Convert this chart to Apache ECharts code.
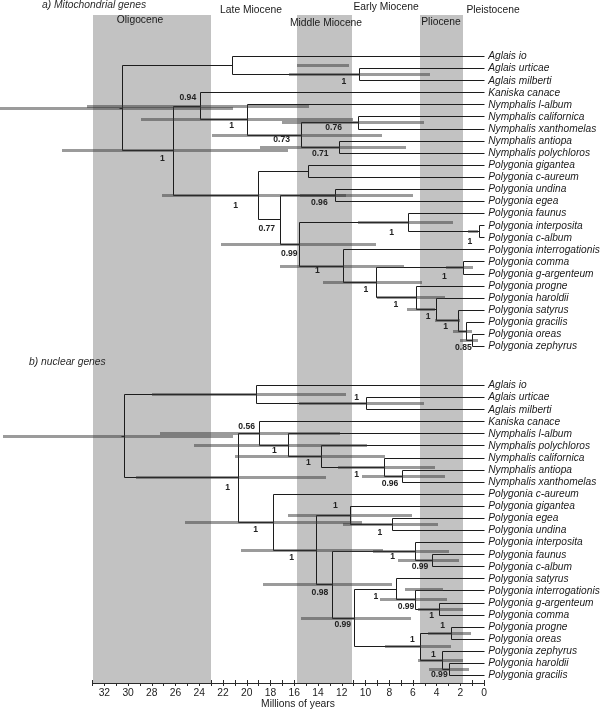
<!DOCTYPE html>
<html><head><meta charset="utf-8">
<script src="https://cdn.jsdelivr.net/npm/echarts@6/dist/echarts.min.js"></script>
<style>html,body{margin:0;padding:0;background:#fff}#c{width:600px;height:713px}</style>
</head><body><div id="c"></div>
<script>
// ================= DATA =================
const epochNames = ['Oligocene', 'Late Miocene', 'Middle Miocene', 'Early Miocene', 'Pliocene', 'Pleistocene'];
const shadedBands = [[33, 23.03], [15.8, 11.1], [5.45, 1.8]]; // Ma (old, young)
const tickLabels = [32, 30, 28, 26, 24, 22, 20, 18, 16, 14, 12, 10, 8, 6, 4, 2, 0];
const axisTitle = 'Millions of years';
const panelTitles = ['a) Mitochondrial genes', 'b) nuclear genes'];

// ---- a) mitochondrial tree ----
const leavesA = ['Aglais io', 'Aglais urticae', 'Aglais milberti', 'Kaniska canace', 'Nymphalis l-album',
  'Nymphalis californica', 'Nymphalis xanthomelas', 'Nymphalis antiopa', 'Nymphalis polychloros',
  'Polygonia gigantea', 'Polygonia c-aureum', 'Polygonia undina', 'Polygonia egea', 'Polygonia faunus',
  'Polygonia interposita', 'Polygonia c-album', 'Polygonia interrogationis', 'Polygonia comma',
  'Polygonia g-argenteum', 'Polygonia progne', 'Polygonia haroldii', 'Polygonia satyrus',
  'Polygonia gracilis', 'Polygonia oreas', 'Polygonia zephyrus'];
// [node id, child 1, child 2, age in Ma]; numbers are leaf indexes
const nodesA = [
  ['root', 'agl', 'n173', 30.51], ['agl', 0, 'um', 21.22], ['um', 1, 2, 10.55],
  ['n173', 'n094', 'p0', 26.19], ['n094', 3, 'nym', 23.96], ['nym', 4, 'n073', 20.01],
  ['n073', 'cx', 'ap', 15.46], ['cx', 5, 6, 10.66], ['ap', 7, 8, 12.21],
  ['p0', 'gc', 'n280', 19.03], ['gc', 9, 10, 14.82], ['n280', 'ue', 'q', 17.2],
  ['ue', 11, 12, 12.57], ['q', 'fau', 'r', 15.58], ['fau', 13, 'ic', 6.39], ['ic', 14, 15, 0.44],
  ['r', 16, 's', 11.87], ['s', 'cg', 't', 9.12], ['cg', 17, 18, 1.76], ['t', 19, 'u', 5.77],
  ['u', 20, 'v', 4.09], ['v', 21, 'w', 2.23], ['w', 22, 'x', 1.56], ['x', 23, 24, 1.05]
];
const supportA = [['um', '1'], ['n094', '0.94'], ['nym', '1'], ['n073', '0.73'], ['cx', '0.76'], ['ap', '0.71'],
  ['n173', '1'], ['p0', '1'], ['ue', '0.96'], ['n280', '0.77'], ['q', '0.99'], ['fau', '1'], ['ic', '1'],
  ['r', '1'], ['s', '1'], ['cg', '1'], ['t', '1'], ['u', '1'], ['v', '1'], ['x', '0.85']];
// 95% HPD bars [node id, old, young]
const hpdA = [['root', 40.79, 21.16], ['n094', 33.46, 14.76], ['agl', 15.8, 11.39], ['um', 16.44, 4.57],
  ['nym', 28.91, 11.05], ['cx', 17.01, 5.07], ['n073', 22.91, 8.64], ['ap', 18.89, 6.59],
  ['n173', 35.54, 16.55], ['p0', 27.12, 11.64], ['ue', 15.52, 5.97], ['fau', 10.61, 2.6],
  ['ic', 1.34, 0.5], ['q', 22.2, 9.14], ['r', 17.2, 6.73], ['s', 13.56, 5.21], ['cg', 3.24, 0.92],
  ['t', 9.06, 3.3], ['u', 6.53, 4.14], ['v', 4.14, 2.04], ['w', 2.6, 1.05], ['x', 2.04, 0.5]];

// ---- b) nuclear tree ----
const leavesB = ['Aglais io', 'Aglais urticae', 'Aglais milberti', 'Kaniska canace', 'Nymphalis l-album',
  'Nymphalis polychloros', 'Nymphalis californica', 'Nymphalis antiopa', 'Nymphalis xanthomelas',
  'Polygonia c-aureum', 'Polygonia gigantea', 'Polygonia egea', 'Polygonia undina', 'Polygonia interposita',
  'Polygonia faunus', 'Polygonia c-album', 'Polygonia satyrus', 'Polygonia interrogationis',
  'Polygonia g-argenteum', 'Polygonia comma', 'Polygonia progne', 'Polygonia oreas', 'Polygonia zephyrus',
  'Polygonia haroldii', 'Polygonia gracilis'];
const nodesB = [
  ['root', 'agl', 'n237', 30.32], ['agl', 0, 'um', 19.25], ['um', 1, 2, 9.98],
  ['n237', 'n056', 'pb0', 20.77], ['n056', 3, 'n287', 18.95], ['n287', 4, 'n320', 16.55],
  ['n320', 5, 'n384', 13.77], ['n384', 6, 'ax', 8.42], ['ax', 7, 8, 6.95],
  ['pb0', 9, 'n316', 17.82], ['n316', 'gig', 'n332', 14.17], ['gig', 10, 'eu', 11.31], ['eu', 11, 12, 7.73],
  ['n332', 'n415', 'n354', 12.8], ['n415', 13, 'fc', 5.83], ['fc', 14, 15, 4.42],
  ['n354', 'n396', 'n420', 10.94], ['n396', 16, 'n415b', 7.43], ['n415b', 17, 'gc', 5.83],
  ['gc', 18, 19, 3.81], ['n420', 'po', 'zc', 5.41], ['po', 20, 21, 2.8], ['zc', 22, 'hg', 3.58],
  ['hg', 23, 24, 2.94]
];
const supportB = [['um', '1'], ['n056', '0.56'], ['n287', '1'], ['n320', '1'], ['n384', '1'], ['ax', '0.96'],
  ['n237', '1'], ['gig', '1'], ['eu', '1'], ['pb0', '1'], ['n316', '1'], ['n415', '1'], ['fc', '0.99'],
  ['n332', '0.98'], ['n396', '1'], ['n415b', '0.99'], ['gc', '1'], ['n354', '0.99'], ['po', '1'],
  ['n420', '1'], ['zc', '1'], ['hg', '0.99']];
const hpdB = [['root', 40.57, 21.14], ['n056', 27.31, 12.15], ['agl', 28.01, 11.67], ['um', 15.6, 5.05],
  ['n287', 24.45, 9.9], ['n320', 20.99, 8.32], ['n384', 12.29, 4.14], ['ax', 10.32, 3.3],
  ['n237', 29.33, 13.29], ['pb0', 25.21, 10.32], ['gig', 16.5, 6.11], ['eu', 11.92, 3.92],
  ['n316', 20.49, 8.5], ['n415', 9.34, 2.97], ['fc', 7.24, 2.1], ['n332', 18.61, 7.77],
  ['n354', 15.43, 6.18], ['n396', 6.7, 3.5], ['n415b', 8.78, 3.16], ['gc', 5.55, 1.76],
  ['n420', 8.36, 2.8], ['po', 4.71, 1.11], ['zc', 5.55, 1.76], ['hg', 4.63, 1.26]];

// ================= LAYOUT / STYLE (pixels) =================
const FONT = '"Liberation Sans", Arial, Helvetica, sans-serif';
const epochLabelPos = [[140, 20], [251, 10], [326, 23], [386, 7], [441, 22], [493, 10]];
const titlePos = [[42, 5], [29, 362]];
const supportOffA = {um: [-15, 7], n094: [-12, -8.5], nym: [-15, 6.6], n073: [-19, 5], cx: [-24, 5], ap: [-19, 7.4],
  n173: [-11, 8], p0: [-22.6, 10], ue: [-15.7, 7.4], n280: [-13.3, 9], q: [-10, 10], fau: [-16.6, 10],
  ic: [-9, 10], r: [-26, 5], s: [-10, 7], cg: [-19, 9], t: [-19.7, 7], u: [-7.4, 7.7], v: [-12, 6], x: [-8.4, 7.4]};
const supportOffB = {um: [-9, -6], n056: [-12.6, -6.3], n287: [-13.4, 6.4], n320: [-12.4, 6.5], n384: [-27.6, 8],
  ax: [-11.7, 7.7], n237: [-10, 10], gig: [-14.5, -9], eu: [-12.5, 9], pb0: [-17, 8.3], n316: [-24.3, 8],
  n415: [-22.3, 5], fc: [-11.7, 6.5], n332: [-12.3, 8.4], n396: [-20, 8], n415b: [-9, 7.3], gc: [-7.3, 7.5],
  n354: [-11.6, 6.8], po: [-8.3, -6.6], n420: [-7.7, -6.2], zc: [-8.4, -4.8], hg: [-10, 6]};

// ================= BUILD =================
function layoutTree(leaves, nodes) {
  const map = {};
  nodes.forEach(n => map[n[0]] = n);
  const pos = {};
  function get(c) {
    if (typeof c === 'number') return {age: 0, row: c};
    if (pos[c]) return pos[c];
    const n = map[c];
    const a = get(n[1]), b = get(n[2]);
    pos[c] = {age: n[3], row: (a.row + b.row) / 2, c1: a, c2: b};
    return pos[c];
  }
  nodes.forEach(n => get(n[0]));
  return pos;
}
const snap = v => Math.round(v) + 0.5;

function treeSeries(idx, leaves, nodes, support, hpd, offs) {
  const pos = layoutTree(leaves, nodes);
  const brackets = nodes.map(n => {
    const p = pos[n[0]];
    return [p.age, p.c1.row, p.c2.row, p.c1.age, p.c2.age];
  });
  const bars = hpd.map(h => [h[1], h[2], pos[h[0]].row]);
  const leafData = leaves.map((l, i) => [0, i]);
  const supData = support.map(s => [pos[s[0]].age, pos[s[0]].row]);
  return [
    {
      type: 'custom', xAxisIndex: idx, yAxisIndex: idx, clip: false, z: 3, silent: true,
      data: brackets,
      renderItem: (params, api) => {
        const na = api.value(0), r1 = api.value(1), r2 = api.value(2), c1 = api.value(3), c2 = api.value(4);
        const pts = [api.coord([c1, r1]), api.coord([na, r1]), api.coord([na, r2]), api.coord([c2, r2])]
          .map(p => [snap(p[0]), snap(p[1])]);
        const children = [{type: 'polyline', shape: {points: pts}, style: {stroke: '#1c1c1c', lineWidth: 1, fill: null}}];
        if (params.dataIndex === 0) {
          const m = api.coord([na, (r1 + r2) / 2]);
          children.push({type: 'line', shape: {x1: snap(m[0]) - 3, y1: snap(m[1]), x2: snap(m[0]), y2: snap(m[1])},
            style: {stroke: '#1c1c1c', lineWidth: 1}});
        }
        return {type: 'group', children};
      }
    },
    {
      type: 'custom', xAxisIndex: idx, yAxisIndex: idx, clip: false, z: 4, silent: true,
      data: bars,
      renderItem: (params, api) => {
        const p1 = api.coord([api.value(0), api.value(2)]);
        const p2 = api.coord([api.value(1), api.value(2)]);
        const y = snap(p1[1]);
        return {type: 'line', shape: {x1: Math.round(p1[0]), y1: y, x2: Math.round(p2[0]), y2: y},
          style: {stroke: 'rgba(55,55,55,0.5)', lineWidth: 3}};
      }
    },
    {
      type: 'custom', xAxisIndex: idx, yAxisIndex: idx, clip: false, z: 5, silent: true,
      data: leafData,
      renderItem: (params, api) => {
        const p = api.coord([api.value(0), api.value(1)]);
        return {type: 'text', x: p[0] + 4, y: p[1] + 0.5,
          style: {text: leaves[params.dataIndex], fontSize: 10.2, fontStyle: 'italic', fontFamily: FONT,
            fill: '#1a1a1a', align: 'left', verticalAlign: 'middle'}};
      }
    },
    {
      type: 'custom', xAxisIndex: idx, yAxisIndex: idx, clip: false, z: 5, silent: true,
      data: supData,
      renderItem: (params, api) => {
        const p = api.coord([api.value(0), api.value(1)]);
        const s = support[params.dataIndex];
        const o = offs[s[0]] || [-10, 7];
        return {type: 'text', x: p[0] + o[0], y: p[1] + o[1],
          style: {text: s[1], fontSize: 8.6, fontWeight: 'bold', fontFamily: FONT,
            fill: '#222', align: 'center', verticalAlign: 'middle'}};
      }
    }
  ];
}

const gridLeft = 92.5, gridRight = 115.8;
const hiddenX = gi => ({gridIndex: gi, type: 'value', min: 0, max: 33, inverse: true, show: false});
const option = {
  animation: false,
  backgroundColor: '#fff',
  grid: [
    {left: gridLeft, right: gridRight, top: 15, height: 668},
    {left: gridLeft, right: gridRight, top: 56, height: 290},
    {left: gridLeft, right: gridRight, top: 385, height: 290}
  ],
  xAxis: [
    {gridIndex: 0, type: 'value', min: 0, max: 33, interval: 1, inverse: true, position: 'bottom',
      axisLine: {show: true, lineStyle: {color: '#2a2a2a', width: 1}},
      axisTick: {show: true, length: 3, lineStyle: {color: '#2a2a2a'}},
      splitLine: {show: false},
      axisLabel: {margin: 5, fontSize: 10.3, fontFamily: FONT, color: '#222',
        formatter: v => tickLabels.indexOf(v) >= 0 ? String(v) : ''}},
    hiddenX(1), hiddenX(2),
    {gridIndex: 0, type: 'value', min: 0, max: 33, interval: 1, inverse: true, position: 'bottom',
      axisLine: {show: false}, axisLabel: {show: false}, splitLine: {show: false},
      axisTick: {show: true, inside: true, length: 3, lineStyle: {color: '#2a2a2a'}}}
  ],
  yAxis: [
    {gridIndex: 0, type: 'value', min: 0, max: 1, show: false},
    {gridIndex: 1, type: 'value', min: 0, max: 24, inverse: true, show: false},
    {gridIndex: 2, type: 'value', min: 0, max: 24, inverse: true, show: false}
  ],
  graphic: [
    ...epochNames.map((n, i) => ({type: 'text', x: epochLabelPos[i][0], y: epochLabelPos[i][1], z: 10,
      style: {text: n, fontSize: 10.3, fontFamily: FONT, fill: '#1a1a1a', align: 'center', verticalAlign: 'middle'}})),
    ...panelTitles.map((t, i) => ({type: 'text', x: titlePos[i][0], y: titlePos[i][1], z: 10,
      style: {text: t, fontSize: 10.3, fontStyle: 'italic', fontFamily: FONT, fill: '#2a2a2a', align: 'left', verticalAlign: 'middle'}})),
    {type: 'text', x: 298, y: 704, z: 10,
      style: {text: axisTitle, fontSize: 10.3, fontFamily: FONT, fill: '#1a1a1a', align: 'center', verticalAlign: 'middle'}}
  ],
  series: [
    {
      type: 'custom', xAxisIndex: 0, yAxisIndex: 0, z: 1, silent: true, clip: false,
      data: shadedBands,
      renderItem: (params, api) => {
        const p1 = api.coord([api.value(0), 1]);
        const p2 = api.coord([api.value(1), 0]);
        return {type: 'rect', shape: {x: Math.round(p1[0]), y: Math.round(p1[1]),
          width: Math.round(p2[0]) - Math.round(p1[0]), height: Math.round(p2[1] - p1[1])},
          style: {fill: '#c2c2c2'}};
      }
    },
    ...treeSeries(1, leavesA, nodesA, supportA, hpdA, supportOffA),
    ...treeSeries(2, leavesB, nodesB, supportB, hpdB, supportOffB)
  ]
};
const chart = echarts.init(document.getElementById('c'), null, {renderer: 'canvas'});
chart.setOption(option);
</script>
</body></html>
